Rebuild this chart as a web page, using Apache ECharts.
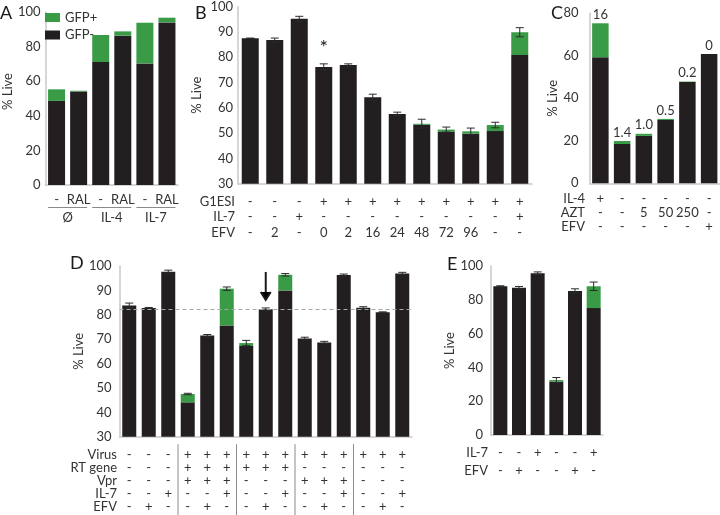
<!DOCTYPE html>
<html><head><meta charset="utf-8">
<script src="https://cdn.jsdelivr.net/npm/echarts@6/dist/echarts.min.js"></script>
<style>html,body{margin:0;padding:0;background:#fff}#c{width:720px;height:515px}</style>
</head><body><div id="c"></div>
<script>
// ---------- Panel A ----------
const aCats = ['-', 'RAL', '-', 'RAL', '-', 'RAL'];
const aGroups = ['Ø', 'IL-4', 'IL-7'];
const aNeg = [48.6, 54.1, 71.1, 86.3, 70.3, 94.0];
const aPos = [6.7, 0.4, 15.6, 2.5, 23.5, 2.7];

// ---------- Panel B ----------
const bG1esi = ['-', '-', '-', '+', '+', '+', '+', '+', '+', '+', '+', '+'];
const bIl7   = ['-', '-', '+', '-', '-', '-', '-', '-', '-', '-', '-', '+'];
const bEfv   = ['-', '2', '-', '0', '2', '16', '24', '48', '72', '96', '-', '-'];
const bNeg = [87.5, 86.8, 95.2, 76.2, 76.9, 64.2, 57.6, 53.3, 50.6, 49.8, 50.8, 80.9];
const bPos = [0, 0, 0, 0, 0, 0, 0, 0.4, 0.8, 0.9, 2.4, 9.0];
const bErr = [0.1, 0.8, 1.0, 1.2, 0.5, 1.2, 0.7, 1.8, 1.0, 1.3, 1.1, 1.8];
const bMarks = ['', '', '', '*', '', '', '', '', '', '', '', ''];

// ---------- Panel C ----------
const cIl4 = ['+', '-', '-', '-', '-', '-'];
const cAzt = ['-', '-', '5', '50', '250', '-'];
const cEfv = ['-', '-', '-', '-', '-', '+'];
const cNeg = [59.3, 18.5, 22.3, 29.8, 47.7, 60.8];
const cPos = [16, 1.4, 1.0, 0.5, 0.2, 0];
const cLabels = ['16', '1.4', '1.0', '0.5', '0.2', '0'];

// ---------- Panel D ----------
const dVirus = ['-', '-', '-', '+', '+', '+', '+', '+', '+', '+', '+', '+', '+', '+', '+'];
const dRt    = ['-', '-', '-', '+', '+', '+', '+', '+', '+', '-', '-', '-', '-', '-', '-'];
const dVpr   = ['-', '-', '-', '+', '+', '+', '-', '-', '-', '+', '+', '+', '-', '-', '-'];
const dIl7   = ['-', '-', '+', '-', '-', '+', '-', '-', '+', '-', '-', '+', '-', '-', '+'];
const dEfv   = ['-', '+', '-', '-', '+', '-', '-', '+', '-', '-', '+', '-', '-', '+', '-'];
const dNeg = [83.8, 82.8, 97.6, 44.1, 71.5, 75.6, 67.2, 82.3, 90.0, 70.3, 68.6, 96.3, 82.9, 81.0, 96.9];
const dPos = [0, 0, 0, 3.4, 0, 15.1, 1.2, 0, 6.4, 0, 0, 0, 0, 0, 0];
const dErr = [1.0, 0.2, 0.7, 0.3, 0.4, 0.7, 1.1, 0.5, 0.5, 0.5, 0.5, 0.4, 0.4, 0.2, 0.5];
const dRef = 82.3;
const dArrowBar = 7;
const dGroupSize = 3;

// ---------- Panel E ----------
const eIl7 = ['-', '-', '+', '-', '-', '+'];
const eEfv = ['-', '+', '-', '-', '+', '-'];
const eNeg = [88.0, 87.2, 95.7, 31.6, 85.2, 75.1];
const ePos = [0, 0, 0, 0.9, 0, 12.9];
const eErr = [0.3, 0.7, 0.8, 1.5, 1.3, 2.5];

// ---------- style ----------
const FONT = 'Lato';
const TXT = '#333333';
const GREEN = '#3a9b47';
const BLACK = '#231f20';
const AXIS = '#c9c9c9';
const ERR = '#2a2a2a';

const panels = [
  {letter:'A', lx:0, ly:4, left:40, top:12, width:138, height:173, min:0, max:100, interval:20,
   nameGap:27, namePad:[0,0,0,14], tickMargin:5, margin:8, lh:14, rows:[aCats], rowNames:null,
   neg:aNeg, pos:aPos, err:null, bw:17},
  {letter:'B', lx:195, ly:4, left:238, top:6.7, width:294, height:177, min:30, max:100, interval:10,
   nameGap:35, namePad:0, tickMargin:5, margin:10.2, lh:15.5, rows:[bG1esi, bIl7, bEfv], rowNames:['G1ESI','IL-7','EFV'], rowRight:235,
   neg:bNeg, pos:bPos, err:bErr, bw:17},
  {letter:'C', lx:551, ly:4, left:589.5, top:13.3, width:133, height:170, min:0, max:80, interval:20,
   nameGap:28, namePad:0, tickMargin:11, margin:8.7, lh:13.9, rows:[cIl4, cAzt, cEfv], rowNames:['IL-4','AZT','EFV'], rowRight:585,
   neg:cNeg, pos:cPos, err:null, bw:16.5},
  {letter:'D', lx:70, ly:254, left:119.5, top:266, width:292.5, height:170.7, min:30, max:100, interval:10,
   nameGap:33, namePad:0, tickMargin:8, margin:11.9, lh:12.9, rows:[dVirus, dRt, dVpr, dIl7, dEfv], rowNames:['Virus','RT gene','Vpr','IL-7','EFV'], rowRight:117,
   neg:dNeg, pos:dPos, err:dErr, bw:14},
  {letter:'E', lx:447, ly:255, left:491, top:266, width:112, height:169, min:0, max:100, interval:20,
   nameGap:28, namePad:0, tickMargin:8, margin:8.7, lh:18, rows:[eIl7, eEfv], rowNames:['IL-7','EFV'], rowRight:488,
   neg:eNeg, pos:ePos, err:eErr, bw:14}
];

function errRender(params, api) {
  const i = api.value(0);
  const lo = api.coord([i, api.value(1)]);
  const hi = api.coord([i, api.value(2)]);
  const hw = 4;
  const st = {stroke: ERR, lineWidth: 1};
  return {type:'group', children:[
    {type:'line', shape:{x1:lo[0], y1:lo[1], x2:hi[0], y2:hi[1]}, style:st},
    {type:'line', shape:{x1:lo[0]-hw, y1:lo[1], x2:lo[0]+hw, y2:lo[1]}, style:st},
    {type:'line', shape:{x1:hi[0]-hw, y1:hi[1], x2:hi[0]+hw, y2:hi[1]}, style:st}
  ]};
}

const grid = [], xAxis = [], yAxis = [], series = [], graphic = [];
panels.forEach((p, k) => {
  grid.push({left:p.left, top:p.top, width:p.width, height:p.height, containLabel:false});
  const rows = p.rows;
  xAxis.push({type:'category', gridIndex:k, data:p.neg.map((_, i) => String(i)),
    axisLine:{show:true, lineStyle:{color:AXIS, width:1.5}}, axisTick:{show:false},
    axisLabel:{interval:0, margin:p.margin, lineHeight:p.lh, fontSize:13, fontFamily:FONT, color:TXT,
      formatter:(v, i) => rows.map(r => r[i]).join('\n')}});
  yAxis.push({type:'value', gridIndex:k, min:p.min, max:p.max, interval:p.interval,
    splitLine:{show:false}, axisTick:{show:false},
    axisLine:{show:true, lineStyle:{color:AXIS, width:1.5}},
    axisLabel:{fontSize:13, fontFamily:FONT, color:TXT, margin:p.tickMargin},
    name:'% Live', nameLocation:'middle', nameGap:p.nameGap,
    nameTextStyle:{fontSize:13, fontFamily:FONT, color:TXT, padding:p.namePad}});
  series.push({type:'bar', name:'GFP-', xAxisIndex:k, yAxisIndex:k, stack:'s'+k, data:p.neg,
    barWidth:p.bw, itemStyle:{color:BLACK}, silent:true,
    markLine: k === 3 ? {silent:true, symbol:'none', label:{show:false},
      lineStyle:{color:'#a8a8a8', type:[4,3], width:1.2}, data:[{yAxis:dRef}]} : undefined});
  series.push({type:'bar', name:'GFP+', xAxisIndex:k, yAxisIndex:k, stack:'s'+k, data:p.pos,
    barWidth:p.bw, itemStyle:{color:GREEN}, silent:true});
  if (p.err) {
    series.push({type:'custom', xAxisIndex:k, yAxisIndex:k, z:5, silent:true,
      renderItem:errRender, encode:{x:0, y:[1,2]},
      data:p.neg.map((v, i) => [i, v + p.pos[i] - p.err[i], v + p.pos[i] + p.err[i]])});
  }
  graphic.push({type:'text', left:p.lx, top:p.ly, style:{text:p.letter, fontSize:18, fontFamily:FONT, fill:'#1a1a1a'}});
  if (p.rowNames) {
    graphic.push({type:'text', x:p.rowRight, y:p.top + p.height + p.margin,
      style:{text:p.rowNames.join('\n'), fontSize:13, fontFamily:FONT, fill:TXT, lineHeight:p.lh,
        align:'right', verticalAlign:'top'}});
  }
});

// B asterisk
series.push({type:'custom', xAxisIndex:1, yAxisIndex:1, z:6, silent:true,
  data:bNeg.map((v, i) => [i, v + bPos[i] + bErr[i]]),
  renderItem:(params, api) => {
    const i = api.value(0);
    if (!bMarks[i]) return null;
    const c = api.coord([i, api.value(1)]);
    return {type:'text', style:{text:bMarks[i], x:c[0], y:c[1] - 6, fontSize:20, fontFamily:FONT, fill:'#1a1a1a',
      align:'center', verticalAlign:'bottom'}};
  }});
// C labels
series.push({type:'custom', xAxisIndex:2, yAxisIndex:2, z:6, silent:true,
  data:cNeg.map((v, i) => [i, v + cPos[i]]),
  renderItem:(params, api) => {
    const i = api.value(0);
    const c = api.coord([i, api.value(1)]);
    return {type:'text', style:{text:cLabels[i], x:c[0], y:c[1] - 2, fontSize:13, fontFamily:FONT, fill:TXT,
      align:'center', verticalAlign:'bottom'}};
  }});
// D arrow
series.push({type:'custom', xAxisIndex:3, yAxisIndex:3, z:6, silent:true,
  data:[[dArrowBar, dNeg[dArrowBar] + dPos[dArrowBar] + dErr[dArrowBar]]],
  renderItem:(params, api) => {
    const c = api.coord([api.value(0), api.value(1)]);
    const yb = c[1] - 8, yt = yb - 28;
    const st = {stroke:'#1a1a1a', lineWidth:2};
    return {type:'group', children:[
      {type:'line', shape:{x1:c[0], y1:yt, x2:c[0], y2:yb}, style:st},
      {type:'polyline', shape:{points:[[c[0]-5, yb-8], [c[0], yb], [c[0]+5, yb-8]]}, style:st}
    ]};
  }});

const option = {
  backgroundColor:'#fff',
  animation:false,
  textStyle:{fontFamily:FONT},
  legend:{data:['GFP+', 'GFP-'], orient:'vertical', left:40, top:6, itemWidth:15, itemHeight:9, itemGap:4.5,
    icon:'rect', selectedMode:false, textStyle:{fontSize:13, fontFamily:FONT, color:TXT, lineHeight:11}},
  grid, xAxis, yAxis, series, graphic
};

const chart = echarts.init(document.getElementById('c'), null, {renderer:'canvas'});
chart.setOption(option);

// extra decorations derived from the axes
const extra = [];
// Panel A group underlines and group labels
{
  aGroups.forEach((g, gi) => {
    const x0 = chart.convertToPixel({xAxisIndex:0}, 2 * gi);
    const x1 = chart.convertToPixel({xAxisIndex:0}, 2 * gi + 1);
    const half = panels[0].bw / 2;
    const yLine = panels[0].top + panels[0].height + 22.5;
    extra.push({type:'line', shape:{x1:x0 - half, y1:yLine, x2:x1 + half, y2:yLine}, style:{stroke:'#8a8a8a', lineWidth:1}});
    extra.push({type:'text', x:(x0 + x1) / 2, y:yLine + 4, style:{text:g, fontSize:13, fontFamily:FONT, fill:TXT, align:'center', verticalAlign:'top'}});
  });
}
// Panel D group separators
{
  const p = panels[3];
  const band = p.width / dNeg.length;
  for (let g = dGroupSize; g < dNeg.length; g += dGroupSize) {
    const x = chart.convertToPixel({xAxisIndex:3}, g) - band / 2;
    extra.push({type:'line', shape:{x1:x, y1:p.top + p.height + 7.5, x2:x, y2:515}, style:{stroke:'#8a8a8a', lineWidth:1}});
  }
}
chart.setOption({graphic: graphic.concat(extra)});
</script>
</body></html>
